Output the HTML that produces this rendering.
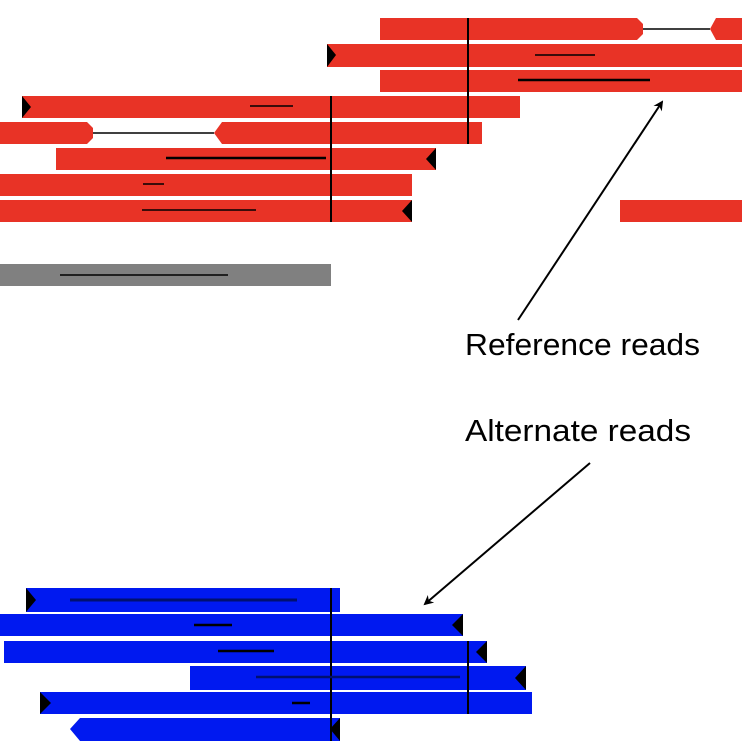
<!DOCTYPE html>
<html><head><style>html,body{margin:0;padding:0;background:#fff;}svg{display:block;}</style></head>
<body>
<svg width="742" height="752" viewBox="0 0 742 752" xmlns="http://www.w3.org/2000/svg">
<defs>
<marker id="ah" markerWidth="10" markerHeight="10" refX="8" refY="5" orient="auto" markerUnits="userSpaceOnUse" viewBox="0 0 10 10"><path d="M0,0 L10,5 L0,10 L3,5 z" fill="#000"/></marker>
</defs>
<g fill="#e83326">
<path d="M380,18 H637 L643,24 V34 L637,40 H380 z"/>
<path d="M716,18 H742 V40 H716 L710,29 z"/>
<rect x="327" y="44" width="415" height="23"/>
<rect x="380" y="70" width="362" height="22"/>
<rect x="22" y="96" width="498" height="22"/>
<path d="M0,122 H87 L93,128 V138 L87,144 H0 z"/>
<path d="M222,122 H482 V144 H222 L214,133 z"/>
<rect x="56" y="148" width="380" height="22"/>
<rect x="0" y="174" width="412" height="22"/>
<rect x="0" y="200" width="412" height="22"/>
<rect x="620" y="200" width="122" height="22"/>
</g>
<rect x="0" y="264" width="331" height="22" fill="#808080"/>
<g fill="#0019f0">
<rect x="26" y="588" width="314" height="24"/>
<rect x="0" y="614" width="463" height="22"/>
<rect x="4" y="641" width="483" height="22"/>
<rect x="190" y="666" width="336" height="24"/>
<rect x="40" y="692" width="492" height="22"/>
<path d="M80,718 H340 V741 H80 L70,729 z"/>
</g>
<g stroke="#000" stroke-width="2">
<line x1="468" y1="18" x2="468" y2="144"/>
<line x1="331" y1="96" x2="331" y2="222"/>
<line x1="331" y1="588" x2="331" y2="741"/>
<line x1="468" y1="641" x2="468" y2="714"/>
</g>
<g stroke="#000" stroke-width="1.5">
<line x1="643" y1="29" x2="710" y2="29"/>
<line x1="93" y1="133" x2="214" y2="133"/>
<line x1="535" y1="55" x2="595" y2="55"/>
<line x1="518" y1="80" x2="650" y2="80" stroke-width="2.5"/>
<line x1="250" y1="106" x2="293" y2="106"/>
<line x1="166" y1="158" x2="326" y2="158" stroke-width="2.5"/>
<line x1="143" y1="184" x2="164" y2="184"/>
<line x1="142" y1="210" x2="256" y2="210"/>
<line x1="60" y1="275" x2="228" y2="275"/>
<line x1="70" y1="600" x2="297" y2="600" stroke="#001070" stroke-width="3"/>
<line x1="194" y1="625" x2="232" y2="625" stroke-width="2.5"/>
<line x1="218" y1="651" x2="274" y2="651" stroke-width="2.5"/>
<line x1="256" y1="677" x2="460" y2="677" stroke="#001070" stroke-width="2.5"/>
<line x1="292" y1="703" x2="310" y2="703" stroke-width="2.5"/>
</g>
<g fill="#000">
<path d="M327,44 L336,55 L327,67 z"/>
<path d="M22,96 L31,107 L22,118 z"/>
<path d="M436,148 L426,159 L436,170 z"/>
<path d="M412,200 L402,211 L412,222 z"/>
<path d="M26,588 L36,600 L26,612 z"/>
<path d="M463,614 L452,625 L463,636 z"/>
<path d="M487,641 L476,652 L487,663 z"/>
<path d="M526,666 L515,678 L526,690 z"/>
<path d="M40,692 L51,703 L40,714 z"/>
<path d="M340,718 L330,729 L340,741 z"/>
</g>
<line x1="518" y1="320" x2="662" y2="102" stroke="#000" stroke-width="2" marker-end="url(#ah)"/>
<line x1="590" y1="463" x2="425" y2="604" stroke="#000" stroke-width="2" marker-end="url(#ah)"/>
<text x="465" y="355" font-family="Liberation Sans, sans-serif" font-size="31" textLength="235" lengthAdjust="spacingAndGlyphs" fill="#000">Reference reads</text>
<text x="465" y="441" font-family="Liberation Sans, sans-serif" font-size="31" textLength="226" lengthAdjust="spacingAndGlyphs" fill="#000">Alternate reads</text>
</svg>
</body></html>
